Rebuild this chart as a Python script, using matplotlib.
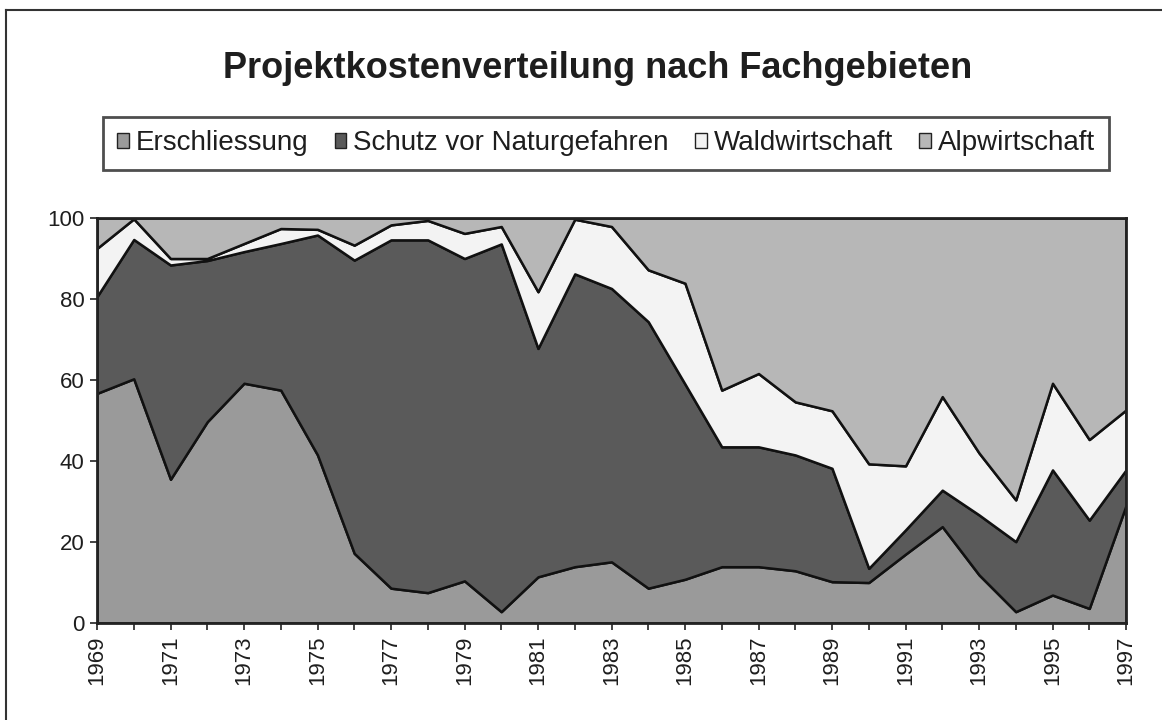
import matplotlib
matplotlib.use("Agg")
import matplotlib.pyplot as plt
from matplotlib.patches import Patch
from matplotlib.lines import Line2D

plt.rcParams['font.family'] = ['Liberation Sans', 'DejaVu Sans']

years = list(range(1969, 1998))
series_names = ["Erschliessung", "Schutz vor Naturgefahren", "Waldwirtschaft", "Alpwirtschaft"]

erschliessung = [56.7, 60.3, 35.5, 49.7, 59.2, 57.5, 41.5, 17.2, 8.6, 7.5,
                 10.4, 2.8, 11.4, 13.9, 15.1, 8.6, 10.8, 13.9, 13.9, 12.9,
                 10.2, 10.0, 17.0, 23.8, 11.9, 2.8, 6.9, 3.6, 29.0]
schutz = [23.9, 34.4, 52.9, 39.8, 32.5, 36.2, 54.3, 72.4, 86.0, 87.1,
          79.6, 90.8, 56.4, 72.3, 67.5, 65.8, 48.2, 29.6, 29.6, 28.6,
          28.0, 3.5, 6.0, 9.0, 14.8, 17.3, 30.9, 21.8, 8.8]
waldwirtschaft = [11.9, 5.1, 1.6, 0.5, 2.0, 3.7, 1.4, 3.7, 3.7, 4.8,
                  6.2, 4.3, 14.0, 13.5, 15.3, 12.8, 24.9, 14.0, 18.1, 13.1,
                  14.2, 25.8, 15.8, 23.1, 15.3, 10.3, 21.4, 19.9, 14.8]
alpwirtschaft = [7.5, 0.2, 10.0, 10.0, 6.3, 2.6, 2.8, 6.7, 1.7, 0.6,
                 3.8, 2.1, 18.2, 0.3, 2.1, 12.8, 16.1, 42.5, 38.4, 45.4,
                 47.6, 60.7, 61.2, 44.1, 58.0, 69.6, 40.8, 54.7, 47.4]

y_ticks = [0, 20, 40, 60, 80, 100]
x_labels = [str(y) if (y - 1969) % 2 == 0 else "" for y in years]

colors = ["#9a9a9a", "#5a5a5a", "#f3f3f3", "#b7b7b7"]
txt = "#1e1e1e"

W, H = 1162, 720
fig = plt.figure(figsize=(W / 100, H / 100), dpi=100)
fig.patch.set_facecolor("white")

L, R, T, B = 97, 1126, 218, 623
ax = fig.add_axes([L / W, 1 - B / H, (R - L) / W, (B - T) / H])
ax.stackplot(years, erschliessung, schutz, waldwirtschaft, alpwirtschaft,
             colors=colors, edgecolor="#111111", linewidth=1.8)
ax.set_xlim(1969, 1997)
ax.set_ylim(0, 100)
ax.set_yticks(y_ticks)
ax.set_yticklabels([str(v) for v in y_ticks], fontsize=16, color=txt)
ax.set_xticks(years)
ax.set_xticklabels(x_labels, rotation=90, fontsize=16, color=txt)
ax.tick_params(axis="both", direction="out", length=5, width=1.2, color="#222222", pad=4)
for s in ax.spines.values():
    s.set_linewidth(2)
    s.set_color("#222222")

# outer chart border (left and top visible)
fig.add_artist(Line2D([6 / W, 6 / W], [0, 1 - 10 / H], transform=fig.transFigure,
                      color="#333333", linewidth=1.5))
fig.add_artist(Line2D([6 / W, 1.0], [1 - 10 / H, 1 - 10 / H], transform=fig.transFigure,
                      color="#333333", linewidth=1.5))

fig.text(598 / W, 1 - 68 / H, "Projektkostenverteilung nach Fachgebieten",
         ha="center", va="center", fontsize=26, fontweight="bold", color=txt)

handles = [Patch(facecolor=c, edgecolor="#222222", linewidth=1.0) for c in colors]
leg = fig.legend(handles, series_names, ncol=4, loc="center",
                 bbox_to_anchor=((102 + 1110) / 2 / W, 1 - 143.5 / H),
                 fontsize=20, frameon=True, fancybox=False, edgecolor="#222222",
                 handlelength=0.42, handleheight=0.42, handletextpad=0.25,
                 columnspacing=0.95, borderpad=0.5, borderaxespad=0)
leg.get_frame().set_linewidth(2)
for t in leg.get_texts():
    t.set_color(txt)

fig.savefig("out.png", dpi=100, facecolor="white")
